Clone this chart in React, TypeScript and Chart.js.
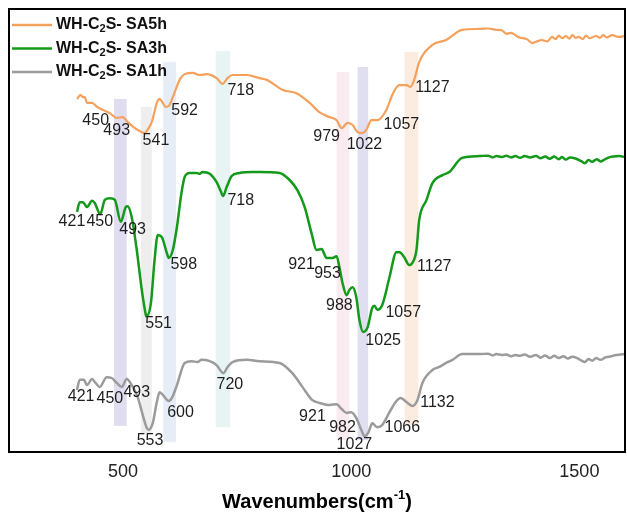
import React, { useEffect, useRef } from "react";
import { Chart, registerables } from "chart.js";

Chart.register(...registerables);

// ---------- data (wavenumber cm-1 vs. intensity a.u.) ----------
const seriesNames = ["WH-C₂S- SA5h", "WH-C₂S- SA3h", "WH-C₂S- SA1h"];
const seriesColors = ["#f5a15c", "#14991a", "#9b9b9b"];

const sa5hX = [399, 407, 412, 416, 421, 432, 443, 456, 471, 486, 499, 510, 526, 541, 548, 552, 563, 574, 580, 587, 593, 600, 609, 624, 635, 653, 668, 683, 705, 718, 729, 740, 771, 799, 815, 850, 880, 909, 930, 952, 968, 979, 992, 1003, 1014, 1022, 1029, 1035, 1044, 1057, 1077, 1090, 1105, 1121, 1130, 1138, 1149, 1178, 1208, 1243, 1281, 1300, 1318, 1330, 1340, 1350, 1368, 1385, 1397, 1405, 1418, 1430, 1440, 1448, 1455, 1462, 1471, 1478, 1485, 1492, 1499, 1507, 1515, 1522, 1537, 1545, 1552, 1560, 1572, 1585, 1600];
const sa5hY = [79.7, 80.6, 80.1, 80.1, 78.8, 78.8, 77.9, 77.2, 76.5, 75.4, 75.6, 74.5, 73.1, 72.2, 72.0, 72.5, 74.5, 78.8, 79.7, 78.8, 77.9, 78.1, 80.1, 84.0, 85.3, 85.6, 85.1, 85.3, 84.4, 83.1, 84.4, 85.1, 85.1, 84.4, 84.0, 81.7, 81.0, 78.8, 76.7, 75.6, 74.9, 73.1, 74.3, 73.8, 72.2, 72.0, 72.2, 73.1, 74.9, 74.9, 77.2, 80.6, 82.8, 82.8, 82.4, 84.0, 88.0, 91.9, 93.0, 95.3, 95.5, 95.6, 95.3, 95.2, 94.4, 94.6, 93.6, 93.2, 92.3, 92.6, 93.0, 92.7, 93.7, 93.2, 94.0, 93.4, 93.9, 93.3, 94.1, 93.5, 93.7, 93.2, 94.0, 93.4, 93.9, 93.5, 94.1, 93.6, 94.1, 93.7, 93.9];

const sa3hX = [399, 405, 412, 421, 432, 438, 450, 460, 471, 482, 495, 506, 510, 519, 530, 541, 550, 551, 561, 569, 576, 585, 596, 600, 609, 618, 628, 635, 646, 661, 668, 674, 690, 705, 714, 719, 727, 738, 755, 784, 799, 843, 865, 882, 898, 913, 924, 935, 946, 959, 968, 974, 981, 990, 996, 1003, 1011, 1018, 1026, 1036, 1046, 1051, 1057, 1068, 1084, 1099, 1106, 1116, 1127, 1134, 1143, 1149, 1165, 1178, 1200, 1215, 1243, 1281, 1300, 1310, 1318, 1330, 1340, 1350, 1360, 1370, 1380, 1392, 1405, 1415, 1425, 1435, 1445, 1455, 1462, 1470, 1480, 1493, 1505, 1512, 1520, 1528, 1538, 1546, 1555, 1565, 1575, 1587, 1600];
const sa3hY = [54.2, 56.4, 56.4, 55.3, 56.7, 56.2, 53.7, 56.9, 57.3, 56.9, 52.0, 55.3, 55.5, 53.0, 45.6, 36.6, 30.9, 30.6, 33.6, 43.3, 49.0, 48.5, 44.9, 43.8, 45.6, 50.8, 58.5, 62.1, 63.0, 63.0, 62.8, 63.2, 62.8, 60.9, 58.9, 57.8, 59.8, 62.3, 63.0, 63.2, 63.2, 63.0, 61.4, 59.1, 55.3, 49.4, 45.6, 45.8, 43.8, 43.8, 44.2, 41.8, 38.1, 35.4, 36.6, 37.2, 35.0, 29.8, 27.1, 28.2, 32.5, 33.0, 32.1, 33.2, 39.5, 45.1, 45.1, 44.0, 42.2, 42.7, 45.6, 52.4, 56.9, 60.7, 62.5, 63.2, 66.4, 66.8, 66.9, 66.5, 66.8, 66.6, 66.9, 66.5, 66.8, 66.4, 66.8, 66.5, 66.8, 66.3, 66.7, 66.2, 66.7, 66.1, 66.6, 66.0, 66.5, 66.2, 65.6, 65.2, 65.9, 65.5, 66.1, 65.6, 66.0, 66.5, 66.7, 66.8, 66.6];

const sa1hX = [399, 405, 414, 421, 432, 438, 449, 464, 475, 486, 497, 508, 519, 532, 543, 552, 556, 565, 574, 580, 587, 600, 607, 618, 635, 650, 663, 672, 690, 705, 720, 729, 740, 771, 799, 843, 871, 893, 915, 930, 952, 968, 979, 990, 1000, 1011, 1022, 1029, 1038, 1046, 1057, 1068, 1084, 1099, 1108, 1123, 1134, 1145, 1156, 1178, 1193, 1208, 1222, 1243, 1281, 1300, 1310, 1318, 1330, 1340, 1350, 1360, 1370, 1380, 1392, 1405, 1415, 1425, 1435, 1445, 1455, 1465, 1475, 1484, 1495, 1505, 1512, 1520, 1528, 1537, 1546, 1558, 1570, 1580, 1590, 1600];
const sa1hY = [14.0, 16.3, 16.3, 15.1, 16.5, 15.8, 14.7, 16.9, 16.7, 15.6, 14.7, 16.5, 15.1, 12.4, 8.4, 5.4, 5.0, 6.5, 11.3, 13.5, 12.9, 11.5, 12.2, 15.1, 20.1, 20.5, 20.3, 20.8, 20.5, 19.6, 17.8, 19.2, 20.3, 20.8, 20.5, 20.1, 17.8, 14.7, 11.7, 11.1, 10.6, 10.8, 9.7, 8.8, 9.0, 7.7, 5.0, 3.6, 4.5, 6.5, 5.6, 6.1, 9.0, 11.5, 12.2, 11.1, 10.4, 11.7, 15.6, 18.5, 19.2, 20.1, 20.8, 22.1, 22.1, 22.2, 21.8, 22.1, 21.9, 22.0, 21.6, 21.9, 21.7, 22.0, 21.5, 21.9, 21.3, 21.8, 21.2, 21.7, 21.2, 21.6, 21.1, 21.5, 21.2, 20.6, 20.3, 21.0, 20.6, 21.2, 20.8, 21.4, 21.6, 21.9, 22.0, 22.1];

// peak annotations: text, wavenumber anchor, intensity anchor
const sa5hPeakText = ["450", "493", "541", "592", "718", "979", "1022", "1057", "1127"];
const sa5hPeakX = [440, 486, 572, 635, 758, 946, 1029, 1110, 1178];
const sa5hPeakY = [74.7, 72.5, 70.2, 77.0, 81.5, 71.1, 69.3, 73.8, 82.2];

const sa3hPeakText = ["421", "450", "493", "551", "598", "718", "921", "953", "988", "1025", "1057", "1127"];
const sa3hPeakX = [388, 449, 521, 578, 633, 758, 891, 948, 974, 1070, 1114, 1182];
const sa3hPeakY = [52.1, 51.9, 50.1, 28.9, 42.4, 56.7, 42.4, 40.2, 33.0, 25.1, 31.4, 41.8];

const sa1hPeakText = ["421", "450", "493", "553", "600", "720", "921", "982", "1027", "1066", "1132"];
const sa1hPeakX = [408, 471, 530, 559, 626, 734, 915, 981, 1007, 1112, 1189];
const sa1hPeakY = [12.4, 12.0, 13.3, 2.5, 9.0, 15.3, 7.9, 5.6, 1.6, 5.4, 11.1];

// highlighted bands: wavenumber range and intensity range
const bandFrom = [480, 539, 588, 703, 968, 1014, 1117];
const bandTo = [508, 563, 616, 735, 996, 1037, 1147];
const bandTop = [79.7, 77.9, 88.0, 90.5, 85.8, 86.9, 90.3];
const bandBottom = [5.9, 4.0, 2.3, 5.6, 2.7, 2.7, 6.1];
const bandColors = ["#e0ddf0", "#eeeeee", "#e7edf7", "#e8f4f4", "#f9ebef", "#e0def1", "#fcecdf"];

const xTicks = [500, 1000, 1500];
const xMin = 250;
const xMax = 1600;

const FONT = "'Liberation Sans', Arial, Helvetica, sans-serif";

function drawSubText(ctx: CanvasRenderingContext2D, text: string, x: number, y: number, size: number) {
  // handles ₂ as subscript
  const parts = text.split("₂");
  let cx = x;
  parts.forEach((p, i) => {
    ctx.font = `bold ${size}px ${FONT}`;
    ctx.fillText(p, cx, y);
    cx += ctx.measureText(p).width;
    if (i < parts.length - 1) {
      ctx.font = `bold ${Math.round(size * 0.68)}px ${FONT}`;
      ctx.fillText("2", cx, y + 4);
      cx += ctx.measureText("2").width;
    }
  });
}

const decorPlugin = {
  id: "decor",
  beforeDatasetsDraw(chart: any) {
    const { ctx, scales } = chart;
    const xs = scales.x;
    const ys = scales.y;
    ctx.save();
    for (let i = 0; i < bandFrom.length; i++) {
      const x0 = xs.getPixelForValue(bandFrom[i]);
      const x1 = xs.getPixelForValue(bandTo[i]);
      const y0 = ys.getPixelForValue(bandTop[i]);
      const y1 = ys.getPixelForValue(bandBottom[i]);
      ctx.fillStyle = bandColors[i];
      ctx.fillRect(x0, y0, x1 - x0, y1 - y0);
    }
    ctx.restore();
  },
  afterDatasetsDraw(chart: any) {
    const { ctx, scales, chartArea } = chart;
    const xs = scales.x;
    const ys = scales.y;
    ctx.save();
    // peak labels
    ctx.fillStyle = "#1e1e1e";
    ctx.font = `16px ${FONT}`;
    ctx.textAlign = "center";
    ctx.textBaseline = "middle";
    const groups = [
      [sa5hPeakText, sa5hPeakX, sa5hPeakY],
      [sa3hPeakText, sa3hPeakX, sa3hPeakY],
      [sa1hPeakText, sa1hPeakX, sa1hPeakY],
    ] as [string[], number[], number[]][];
    groups.forEach(([t, xv, yv]) => {
      t.forEach((s, i) => {
        ctx.fillText(s, xs.getPixelForValue(xv[i]), ys.getPixelForValue(yv[i]));
      });
    });

    // frame
    ctx.strokeStyle = "#000";
    ctx.lineWidth = 2;
    ctx.strokeRect(chartArea.left, chartArea.top, chartArea.right - chartArea.left, chartArea.bottom - chartArea.top);

    // legend
    ctx.textAlign = "left";
    ctx.textBaseline = "middle";
    const lx = chartArea.left + 3;
    chart.data.datasets.forEach((ds: any, i: number) => {
      const ly = chartArea.top + 16 + i * 23.5;
      ctx.strokeStyle = ds.borderColor;
      ctx.lineWidth = 2.5;
      ctx.beginPath();
      ctx.moveTo(lx, ly);
      ctx.lineTo(lx + 40, ly);
      ctx.stroke();
      ctx.fillStyle = "#111";
      drawSubText(ctx, ds.label, lx + 44, ly, 16);
    });

    // axis title
    const title = "Wavenumbers(cm";
    ctx.fillStyle = "#000";
    ctx.textBaseline = "alphabetic";
    ctx.font = `bold 20px ${FONT}`;
    const w1 = ctx.measureText(title).width;
    ctx.font = `bold 13px ${FONT}`;
    const w2 = ctx.measureText("-1").width;
    ctx.font = `bold 20px ${FONT}`;
    const w3 = ctx.measureText(")").width;
    const total = w1 + w2 + w3;
    const cx = (chartArea.left + chartArea.right) / 2;
    let tx = cx - total / 2;
    const ty = 508;
    ctx.fillText(title, tx, ty);
    tx += w1;
    ctx.font = `bold 13px ${FONT}`;
    ctx.fillText("-1", tx, ty - 9);
    tx += w2;
    ctx.font = `bold 20px ${FONT}`;
    ctx.fillText(")", tx, ty);
    ctx.restore();
  },
};

export default function App() {
  const ref = useRef<HTMLCanvasElement>(null);
  useEffect(() => {
    document.body.style.margin = "0";
    const mk = (xv: number[], yv: number[]) => xv.map((x, i) => ({ x, y: yv[i] }));
    const chart = new Chart(ref.current as HTMLCanvasElement, {
      type: "line",
      data: {
        datasets: [
          { label: seriesNames[0], data: mk(sa5hX, sa5hY), borderColor: seriesColors[0], borderWidth: 2.2 },
          { label: seriesNames[1], data: mk(sa3hX, sa3hY), borderColor: seriesColors[1], borderWidth: 2.5 },
          { label: seriesNames[2], data: mk(sa1hX, sa1hY), borderColor: seriesColors[2], borderWidth: 2.5 },
        ].map((d) => ({ ...d, pointRadius: 0, fill: false, cubicInterpolationMode: "monotone" as const })),
      },
      plugins: [decorPlugin],
      options: {
        responsive: false,
        animation: false,
        layout: { padding: { left: 9, top: 9, right: 2, bottom: 0 } },
        plugins: { legend: { display: false }, tooltip: { enabled: false } },
        scales: {
          x: {
            type: "linear",
            min: xMin,
            max: xMax,
            grid: { display: false, drawTicks: false },
            border: { display: false },
            afterBuildTicks: (scale: any) => {
              scale.ticks = xTicks.map((v) => ({ value: v }));
            },
            afterFit: (scale: any) => {
              scale.height = 67;
            },
            ticks: {
              padding: 9,
              color: "#222",
              font: { family: FONT, size: 18 },
              callback: (v: any) => String(v),
            },
          },
          y: { display: false, min: 0, max: 100 },
        },
      },
    });
    return () => chart.destroy();
  }, []);
  return (
    <div style={{ width: 627, height: 519 }}>
      <canvas ref={ref} width={627} height={519} style={{ display: "block" }} />
    </div>
  );
}
